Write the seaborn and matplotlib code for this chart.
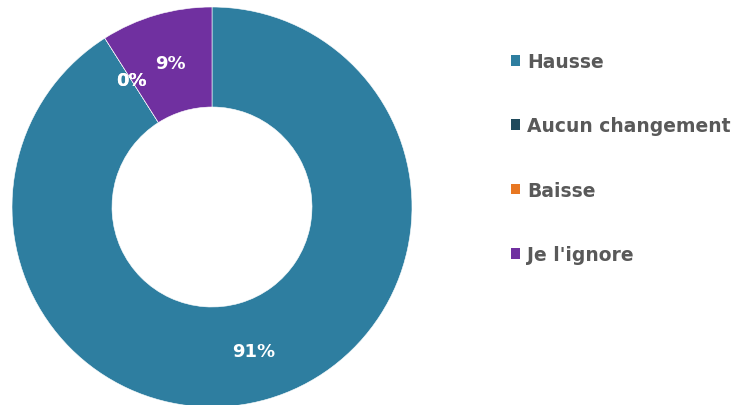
import matplotlib
matplotlib.use("Agg")
import matplotlib.pyplot as plt
import seaborn as sns
from matplotlib.patches import Patch

# data
categories = ["Hausse", "Aucun changement", "Baisse", "Je l'ignore"]
shares = [91, 0, 0, 9]
colors = ["#2E7EA0", "#1F4A5C", "#E87722", "#7030A0"]

sns.set_theme(style="white")
plt.rcParams['font.family'] = ['DejaVu Sans']

fig = plt.figure(figsize=(7.39, 4.06), dpi=100)
# donut centre at (212, 208) px, radius 200 px
ax = fig.add_axes([12 / 739, -2 / 406, 400 / 739, 400 / 406])

wedges, texts, autotexts = ax.pie(
    shares, colors=colors, startangle=90, counterclock=False,
    autopct='%.0f%%', pctdistance=0.75,
    wedgeprops=dict(width=0.5, edgecolor='white', linewidth=0.4),
    textprops=dict(color='white', fontsize=13, fontweight='bold'),
)
ax.set_xlim(-1, 1)
ax.set_ylim(-1, 1)
ax.set_aspect('equal')
ax.axis('off')

handles = [Patch(facecolor=c, edgecolor='none') for c in colors]
leg = fig.legend(
    handles, categories, loc='upper left', bbox_to_anchor=(494 / 739, 1 - 36 / 406),
    frameon=False, labelspacing=2.42,
    handlelength=0.5, handleheight=0.5, handletextpad=0.35,
    prop=dict(weight='bold', size=13.5),
)
for t in leg.get_texts():
    t.set_color('#595959')

fig.savefig("out.png", dpi=100)
